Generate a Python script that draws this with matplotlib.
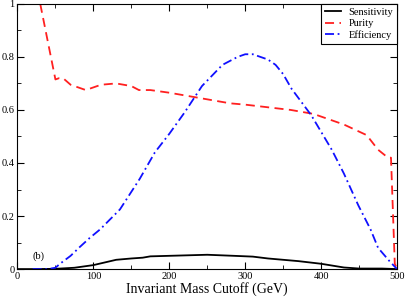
import numpy as np
from matplotlib import pyplot as plt
from matplotlib.ticker import MultipleLocator

plt.rcParams['font.family'] = ['Liberation Serif', 'DejaVu Serif']

# data
x_sens = [0, 25, 50, 75, 100, 115, 130, 150, 165, 175, 200, 250, 285, 310, 330,
          370, 400, 430, 450, 480, 500]
sens = [0, 0, 0.001, 0.005, 0.015, 0.025, 0.035, 0.04, 0.043, 0.048, 0.05, 0.054,
        0.05, 0.047, 0.04, 0.03, 0.02, 0.006, 0.002, 0.002, 0]

x_pur = [30, 50, 55, 60, 70, 90, 110, 130, 150, 160, 175, 200, 220, 240, 260,
         280, 300, 330, 360, 390, 400, 430, 460, 475, 488, 492, 497, 500]
pur = [1.0, 0.715, 0.72, 0.72, 0.695, 0.675, 0.695, 0.70, 0.69, 0.675, 0.675,
       0.665, 0.655, 0.645, 0.635, 0.625, 0.62, 0.61, 0.60, 0.585, 0.575, 0.545,
       0.505, 0.45, 0.42, 0.42, 0.02, 0]

x_eff = [20, 40, 50, 56, 70, 82, 95, 109, 135, 161, 181, 200, 220, 243, 270,
         290, 300, 310, 320, 330, 340, 350, 361, 387, 414, 430, 449, 465, 475,
         490, 500]
eff = [0, 0, 0.005, 0.02, 0.05, 0.083, 0.117, 0.15, 0.225, 0.34, 0.44, 0.51,
       0.59, 0.69, 0.77, 0.80, 0.81, 0.81, 0.80, 0.79, 0.77, 0.735, 0.68, 0.58,
       0.45, 0.36, 0.24, 0.15, 0.08, 0.03, 0]

fig = plt.figure(figsize=(4.06, 2.97), dpi=100)
ax = fig.add_axes([0.043, 0.094, 0.935, 0.893])

ax.plot(x_sens, sens, color='black', lw=1.3, label='Sensitivity')
ax.plot(x_pur, pur, color='#ff2020', lw=1.3, ls=(0, (5, 3)), label='Purity')
ax.plot(x_eff, eff, color='#1010ff', lw=1.3, ls=(0, (5, 2, 1, 2)), label='Efficiency')

ax.set_xlim(0, 500)
ax.set_ylim(0, 1)
ax.xaxis.set_major_locator(MultipleLocator(100))
ax.xaxis.set_minor_locator(MultipleLocator(50))
ax.set_yticks([0, 0.2, 0.4, 0.6, 0.8, 1.0])
ax.set_yticklabels(['0', '0.2', '0.4', '0.6', '0.8', '1'])
ax.yaxis.set_minor_locator(MultipleLocator(0.1))
ax.tick_params(which='both', direction='in', top=True, right=True, labelsize=7.5, pad=2)
ax.tick_params(which='major', length=5)
ax.tick_params(which='minor', length=3)

ax.set_xlabel('Invariant Mass Cutoff (GeV)', fontsize=10, labelpad=1)
ax.text(20, 0.04, '(b)', fontsize=7.5)

leg = ax.legend(loc='upper right', fontsize=7.5, fancybox=False, framealpha=1,
                edgecolor='black', borderaxespad=0, handlelength=1.6,
                handletextpad=0.7, labelspacing=0.2, borderpad=0.35)
leg.get_frame().set_linewidth(0.8)

plt.savefig('out.png', dpi=100)
